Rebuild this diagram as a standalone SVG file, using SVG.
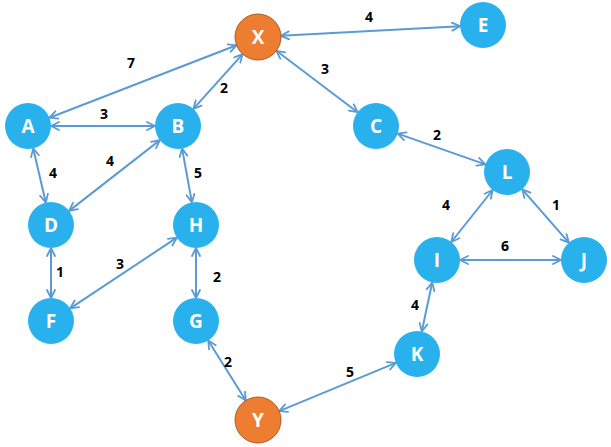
<svg xmlns="http://www.w3.org/2000/svg" width="611" height="447" viewBox="0 0 611 447">
<defs>
<marker id="ah" viewBox="0 0 10 10" refX="9" refY="5" markerWidth="10" markerHeight="10" markerUnits="userSpaceOnUse" orient="auto-start-reverse">
<path d="M1,1 L9,5 L1,9" fill="none" stroke="#5B9BD5" stroke-width="1.8" stroke-linecap="round" stroke-linejoin="round"/>
</marker>
</defs>
<style>
.e{stroke:#5B9BD5;stroke-width:2;fill:none;marker-start:url(#ah);marker-end:url(#ah)}
.b{fill:#29B1EE}
.o{fill:#ED7D31;stroke:#AE5A21;stroke-width:1}
.n{font-family:"Open Sans","Liberation Sans",sans-serif;font-weight:bold;font-size:19px;fill:#fff;text-anchor:middle;dominant-baseline:central}
.l{font-family:"Open Sans","Liberation Sans",sans-serif;font-weight:bold;font-size:14px;fill:#000;text-anchor:middle;dominant-baseline:central}
</style>
<rect width="611" height="447" fill="#fff"/>
<g id="connectors">
<line class="e" x1="281" y1="35.8" x2="460" y2="26.2"/>
<line class="e" x1="276.4" y1="50.8" x2="357.6" y2="112.2"/>
<line class="e" x1="397.7" y1="133.6" x2="485.3" y2="164.4"/>
<line class="e" x1="236.5" y1="45.3" x2="49.5" y2="117.7"/>
<line class="e" x1="242.6" y1="54.1" x2="193.4" y2="108.9"/>
<line class="e" x1="51" y1="126" x2="155" y2="126"/>
<line class="e" x1="33.2" y1="148.4" x2="45.8" y2="202.6"/>
<line class="e" x1="69.1" y1="210.9" x2="159.9" y2="140.1"/>
<line class="e" x1="182.1" y1="148.6" x2="191.9" y2="202.4"/>
<line class="e" x1="51" y1="248" x2="51" y2="298"/>
<line class="e" x1="70.2" y1="308.3" x2="176.8" y2="237.7"/>
<line class="e" x1="196" y1="248" x2="196" y2="298"/>
<line class="e" x1="208.2" y1="340.5" x2="245.8" y2="400.5"/>
<line class="e" x1="279.2" y1="411.2" x2="395.8" y2="362.8"/>
<line class="e" x1="421.8" y1="331.5" x2="432.2" y2="282.5"/>
<line class="e" x1="451.3" y1="242" x2="492.7" y2="190"/>
<line class="e" x1="460" y1="260" x2="561" y2="260"/>
<line class="e" x1="522.2" y1="189.3" x2="568.8" y2="242.7"/>
<text class="l" x="369" y="16">4</text>
<text class="l" x="325" y="68">3</text>
<text class="l" x="437" y="134">2</text>
<text class="l" x="131" y="62">7</text>
<text class="l" x="224" y="87">2</text>
<text class="l" x="104" y="113">3</text>
<text class="l" x="53" y="172">4</text>
<text class="l" x="110" y="160">4</text>
<text class="l" x="198" y="172">5</text>
<text class="l" x="60" y="271">1</text>
<text class="l" x="120" y="263">3</text>
<text class="l" x="217" y="276">2</text>
<text class="l" x="228" y="361">2</text>
<text class="l" x="350" y="371">5</text>
<text class="l" x="415" y="304">4</text>
<text class="l" x="446" y="204">4</text>
<text class="l" x="505" y="245">6</text>
<text class="l" x="556" y="204">1</text>
</g>
<g id="X"><circle class="o" cx="258" cy="37" r="23"/><text class="n" x="258" y="37">X</text></g>
<g id="E"><circle class="b" cx="483" cy="25" r="23"/><text class="n" x="483" y="25">E</text></g>
<g id="A"><circle class="b" cx="28" cy="126" r="23"/><text class="n" x="28" y="126">A</text></g>
<g id="B"><circle class="b" cx="178" cy="126" r="23"/><text class="n" x="178" y="126">B</text></g>
<g id="C"><circle class="b" cx="376" cy="126" r="23"/><text class="n" x="376" y="126">C</text></g>
<g id="L"><circle class="b" cx="507" cy="172" r="23"/><text class="n" x="507" y="172">L</text></g>
<g id="D"><circle class="b" cx="51" cy="225" r="23"/><text class="n" x="51" y="225">D</text></g>
<g id="H"><circle class="b" cx="196" cy="225" r="23"/><text class="n" x="196" y="225">H</text></g>
<g id="I"><circle class="b" cx="437" cy="260" r="23"/><text class="n" x="437" y="260">I</text></g>
<g id="J"><circle class="b" cx="584" cy="260" r="23"/><text class="n" x="584" y="260">J</text></g>
<g id="F"><circle class="b" cx="51" cy="321" r="23"/><text class="n" x="51" y="321">F</text></g>
<g id="G"><circle class="b" cx="196" cy="321" r="23"/><text class="n" x="196" y="321">G</text></g>
<g id="K"><circle class="b" cx="417" cy="354" r="23"/><text class="n" x="417" y="354">K</text></g>
<g id="Y"><circle class="o" cx="258" cy="420" r="23"/><text class="n" x="258" y="420">Y</text></g>
</svg>
